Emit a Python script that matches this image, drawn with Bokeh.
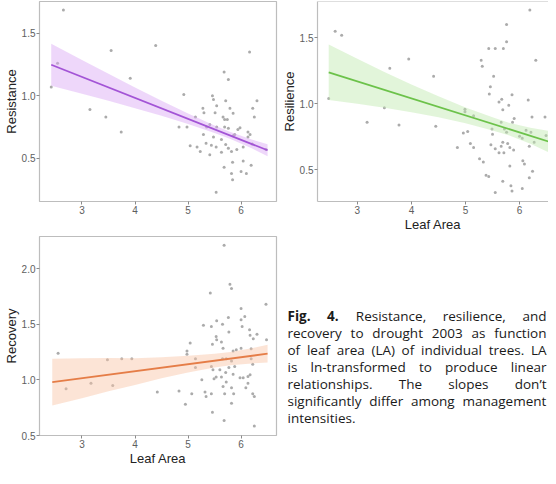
from bokeh.plotting import figure
from bokeh.models import Range1d, FixedTicker, Span, NumeralTickFormatter
from bokeh.layouts import row, column
from bokeh.embed import file_html
from bokeh.resources import INLINE
from bokeh.core.properties import value

# ---------------- data ----------------
# Panel 1: Resistance vs ln(Leaf Area)
la_resistance = [2.65, 4.39, 3.55, 2.42, 2.54, 3.91, 3.15, 3.45, 3.74, 4.83, 4.92, 6.16,
                 5.68, 5.76, 5.46, 5.48, 5.71, 5.79, 6.30, 6.22, 5.28, 5.30, 5.54, 5.51,
                 5.66, 5.69, 5.74, 5.85, 6.25, 5.14, 4.98, 5.41, 5.54, 5.69, 5.76, 5.94,
                 5.98, 5.88, 5.85, 6.13, 6.17, 5.29, 5.48, 5.63, 5.04, 5.17, 5.34, 5.44,
                 5.53, 5.71, 5.76, 5.82, 5.92, 6.04, 6.21, 5.23, 5.41, 5.63, 6.04, 5.68,
                 5.84, 5.82, 6.00, 6.10, 5.84, 6.19, 5.53, 6.47, 6.13, 5.35]
resistance = [1.685, 1.40, 1.36, 1.07, 1.26, 1.14, 0.89, 0.83, 0.71, 0.75, 1.01, 1.35,
              1.19, 1.13, 1.00, 0.97, 0.96, 0.90, 0.96, 0.90, 0.90, 0.865, 0.92, 0.865,
              0.83, 0.81, 0.81, 0.86, 0.83, 0.83, 0.75, 0.77, 0.75, 0.75, 0.74, 0.73,
              0.745, 0.69, 0.68, 0.71, 0.69, 0.69, 0.67, 0.65, 0.60, 0.59, 0.62, 0.605,
              0.59, 0.61, 0.58, 0.555, 0.57, 0.59, 0.615, 0.555, 0.53, 0.55, 0.48, 0.43,
              0.47, 0.38, 0.395, 0.38, 0.33, 0.445, 0.23, 0.57, 0.67, 0.75]
resistance_fit_x = [2.42, 6.50]
resistance_fit_y = [1.247, 0.565]
resistance_band_x = [2.42, 3.0, 3.5, 4.0, 4.5, 5.0, 5.5, 5.8, 6.2, 6.5]
resistance_band_lo = [1.080, 1.015, 0.959, 0.901, 0.840, 0.774, 0.702, 0.654, 0.580, 0.517]
resistance_band_hi = [1.414, 1.285, 1.175, 1.065, 0.960, 0.858, 0.762, 0.710, 0.650, 0.613]

# Panel 2: Resilience vs ln(Leaf Area)
la_resilience = [2.59, 2.71, 2.47, 3.95, 3.60, 4.41, 3.50, 3.18, 3.77, 4.45,
                 6.19, 5.76, 5.76, 5.43, 5.55, 5.70, 5.29, 5.31, 6.30, 5.52, 5.46, 5.44,
                 5.86, 5.67, 5.62, 6.16, 5.80, 5.69, 4.99, 4.99, 5.15, 6.23, 6.47, 5.90,
                 5.87, 5.66, 5.49, 5.72, 5.76, 5.50, 6.00, 6.05, 6.12, 6.21, 6.49, 4.96,
                 5.04, 4.85, 5.09, 5.15, 5.47, 5.55, 5.66, 5.69, 5.78, 5.82, 5.89, 5.71,
                 5.62, 6.18, 6.27, 5.26, 5.33, 5.82, 6.06, 6.09, 6.24, 5.38, 5.43, 5.69,
                 6.18, 5.84, 5.86, 6.05, 5.55]
resilience = [1.55, 1.52, 1.04, 1.34, 1.27, 1.21, 0.97, 0.86, 0.84, 0.83,
              1.71, 1.60, 1.47, 1.42, 1.42, 1.42, 1.33, 1.285, 1.33, 1.21, 1.13, 1.075,
              1.07, 1.035, 1.015, 1.03, 0.99, 0.955, 0.96, 0.94, 0.91, 0.90, 0.90, 0.89,
              0.86, 0.86, 0.81, 0.81, 0.785, 0.77, 0.755, 0.74, 0.80, 0.785, 0.76, 0.78,
              0.79, 0.67, 0.70, 0.67, 0.69, 0.66, 0.68, 0.71, 0.70, 0.67, 0.65, 0.63,
              0.63, 0.68, 0.71, 0.585, 0.56, 0.53, 0.57, 0.545, 0.49, 0.46, 0.45, 0.415,
              0.44, 0.38, 0.34, 0.36, 0.33]
resilience_fit_x = [2.47, 6.60]
resilience_fit_y = [1.239, 0.707]
resilience_band_x = [2.47, 3.0, 3.5, 4.0, 4.5, 5.0, 5.5, 5.8, 6.2, 6.6]
resilience_band_lo = [1.029, 1.001, 0.971, 0.937, 0.898, 0.853, 0.799, 0.762, 0.699, 0.622]
resilience_band_hi = [1.449, 1.341, 1.241, 1.147, 1.058, 0.973, 0.899, 0.858, 0.819, 0.792]

# Panel 3: Recovery vs ln(Leaf Area)
la_recovery = [2.55, 2.70, 3.17, 3.58, 3.48, 3.75, 3.94, 4.42, 4.83,
               5.68, 5.79, 5.82, 5.42, 6.47, 6.00, 6.07, 6.00, 5.76, 5.54, 5.44, 5.65,
               5.29, 5.77, 6.02, 6.16, 6.17, 6.30, 6.23, 6.48, 5.53, 5.54, 5.63, 5.46,
               5.04, 4.98, 4.98, 5.66, 5.85, 5.91, 6.00, 6.19, 5.14, 5.14, 5.65, 5.72,
               5.82, 6.19, 6.22, 5.44, 5.47, 5.60, 5.77, 5.88, 5.71, 5.85, 5.63, 5.53,
               6.04, 6.13, 6.17, 5.98, 5.26, 5.49, 5.72, 5.82, 5.66, 6.13, 6.09, 5.07,
               5.32, 5.44, 5.69, 5.86, 6.22, 5.34, 6.25, 4.95, 5.82, 5.46, 5.68, 6.25]
recovery = [1.24, 0.92, 0.97, 0.95, 1.18, 1.19, 1.19, 0.89, 0.90,
            2.21, 1.86, 1.82, 1.78, 1.68, 1.64, 1.57, 1.54, 1.56, 1.53, 1.48, 1.50,
            1.49, 1.43, 1.48, 1.45, 1.40, 1.41, 1.37, 1.36, 1.39, 1.36, 1.34, 1.32,
            1.33, 1.26, 1.23, 1.285, 1.26, 1.27, 1.285, 1.28, 1.19, 1.11, 1.19, 1.19,
            1.17, 1.19, 1.14, 1.12, 1.09, 1.09, 1.11, 1.12, 1.065, 1.05, 1.025, 1.025,
            1.02, 1.03, 1.045, 1.02, 1.00, 1.01, 0.98, 0.93, 0.94, 0.97, 0.93, 0.875,
            0.89, 0.875, 0.875, 0.875, 0.875, 0.85, 0.85, 0.78, 0.79, 0.71, 0.635, 0.585]
recovery_fit_x = [2.44, 6.50]
recovery_fit_y = [0.980, 1.235]
recovery_band_x = [2.44, 3.0, 3.5, 4.0, 4.5, 5.0, 5.5, 5.8, 6.2, 6.5]
recovery_band_lo = [0.770, 0.835, 0.897, 0.954, 1.014, 1.066, 1.110, 1.131, 1.148, 1.155]
recovery_band_hi = [1.190, 1.195, 1.197, 1.194, 1.204, 1.216, 1.234, 1.251, 1.284, 1.315]

x_ticks = [3, 4, 5, 6]
x_title = "Leaf Area"

caption_lines = [
    [("Fig.", True), ("4.", True), ("Resistance,", False), ("resilience,", False), ("and", False)],
    [("recovery", False), ("to", False), ("drought", False), ("2003", False), ("as", False), ("function", False)],
    [("of", False), ("leaf", False), ("area", False), ("(LA)", False), ("of", False), ("individual", False),
     ("trees.", False), ("LA", False)],
    [("is", False), ("ln-transformed", False), ("to", False), ("produce", False), ("linear", False)],
    [("relationships.", False), ("The", False), ("slopes", False), ("don\u2019t", False)],
    [("significantly", False), ("differ", False), ("among", False), ("management", False)],
    [("intensities.", False)],
]

# ---------------- styling ----------------
FONT = "Liberation Sans"
CAP_FONT = "Open Sans"
CAP_SIZE = 13.5
BORDER = "#bdbdbd"
TICK = "#8a8a8a"
LABEL = "#5e5e5e"
POINT = "#969696"

# approximate Open Sans advance widths (units per em = 2048), used to justify caption lines
OS_W = {
    'a': 1139, 'b': 1255, 'c': 975, 'd': 1255, 'e': 1149, 'f': 694, 'g': 1122, 'h': 1257, 'i': 518,
    'j': 518, 'k': 1075, 'l': 518, 'm': 1905, 'n': 1257, 'o': 1237, 'p': 1255, 'q': 1255, 'r': 836,
    's': 977, 't': 723, 'u': 1257, 'v': 1026, 'w': 1593, 'x': 1073, 'y': 1028, 'z': 977,
    'A': 1296, 'F': 1069, 'L': 1073, 'R': 1268, 'T': 1128, '.': 545, ',': 500, '(': 590, ')': 590,
    '-': 659, '\u2019': 348, ' ': 532,
}


def text_width(s, bold=False):
    w = sum(OS_W.get(ch, 1171) for ch in s) / 2048.0 * CAP_SIZE
    return w * (1.06 if bold else 1.0)


def style_axis(ax, label, line=False):
    ax.axis_label = label
    ax.axis_label_text_font = FONT
    ax.axis_label_text_font_style = "normal"
    ax.axis_label_text_font_size = "13px"
    ax.axis_label_text_color = "#222222"
    ax.axis_label_standoff = 0
    ax.major_label_text_font = FONT
    ax.major_label_text_font_size = "10px"
    ax.major_label_text_color = LABEL
    ax.major_label_standoff = 1
    ax.major_tick_line_color = TICK
    ax.major_tick_out = 3
    ax.major_tick_in = 0
    ax.minor_tick_line_color = None
    ax.axis_line_color = BORDER if line else None
    ax.axis_line_width = 1.2


def panel(width, height, xr, yr, yticks, ylab, mbl, mbr, mbt, mbb, xlab=None, open_right=False):
    p = figure(width=width, height=height, x_range=Range1d(*xr), y_range=Range1d(*yr),
               output_backend="svg", toolbar_location=None,
               min_border_left=mbl, min_border_right=mbr, min_border_top=mbt, min_border_bottom=mbb)
    p.xgrid.visible = False
    p.ygrid.visible = False
    p.background_fill_color = "white"
    p.border_fill_color = "white"
    p.xaxis.ticker = FixedTicker(ticks=x_ticks)
    p.yaxis.ticker = FixedTicker(ticks=yticks)
    p.yaxis.formatter = NumeralTickFormatter(format="0.0")
    style_axis(p.xaxis[0], xlab, line=open_right)
    style_axis(p.yaxis[0], ylab, line=open_right)
    if open_right:
        p.outline_line_color = None
        p.add_layout(Span(location=yr[1], dimension="width", line_color=BORDER, line_width=1.2))
    else:
        p.outline_line_color = BORDER
        p.outline_line_width = 1.2
    return p


def fill(p, lx, ly, bx, lo, hi, fx, fy, line_col, band_col):
    p.scatter(lx, ly, size=3.0, fill_color=POINT, line_color=None, fill_alpha=0.8)
    p.varea(x=bx, y1=lo, y2=hi, fill_color=band_col, fill_alpha=0.45)
    p.line(fx, fy, line_color=line_col, line_width=1.8)


ROW1_H = 234
ROW2_H = 234

# row 1
p1 = panel(278, ROW1_H, (2.199, 6.668), (0.156, 1.752), [0.5, 1.0, 1.5], "Resistance", 36, 2, 1, 29)
fill(p1, la_resistance, resistance, resistance_band_x, resistance_band_lo, resistance_band_hi,
     resistance_fit_x, resistance_fit_y, "#a354d6", "#d9a6f5")

p2 = panel(270, ROW1_H, (2.263, 6.535), (0.261, 1.775), [0.5, 1.0, 1.5], "Resilience", 38, 0, 1, 29,
           xlab=x_title, open_right=True)
fill(p2, la_resilience, resilience, resilience_band_x, resilience_band_lo, resilience_band_hi,
     resilience_fit_x, resilience_fit_y, "#6cc24a", "#bfe8ad")

# row 2
p3 = panel(278, ROW2_H, (2.199, 6.668), (0.5, 2.288), [0.5, 1.0, 1.5, 2.0], "Recovery", 36, 2, 2, 29,
           xlab=x_title)
fill(p3, la_recovery, recovery, recovery_band_x, recovery_band_lo, recovery_band_hi,
     recovery_fit_x, recovery_fit_y, "#e57d47", "#f9c3a3")

# caption panel (justified text)
p4 = figure(width=270, height=ROW2_H, x_range=Range1d(0, 270), y_range=Range1d(ROW2_H, 0),
            x_axis_type=None, y_axis_type=None, output_backend="svg", toolbar_location=None,
            min_border_left=0, min_border_right=0, min_border_top=0, min_border_bottom=0)
p4.xgrid.visible = False
p4.ygrid.visible = False
p4.outline_line_color = None
p4.background_fill_color = "white"
p4.border_fill_color = "white"

LEFT, RIGHT = 9, 268
FIRST_BASE, LEADING = 94, 19.9
for i, words in enumerate(caption_lines):
    base = FIRST_BASE + i * LEADING
    widths = [text_width(w, b) for w, b in words]
    if i < len(caption_lines) - 1 and len(words) > 1:
        gap = (RIGHT - LEFT - sum(widths)) / (len(words) - 1)
    else:
        gap = text_width(" ")
    x = LEFT
    for (w, b), wd in zip(words, widths):
        p4.text(x=[x], y=[base], text=[w], text_font=value(CAP_FONT), text_font_size=f"{CAP_SIZE}px",
                text_font_style="bold" if b else "normal", text_color="#1a1a1a",
                text_baseline="alphabetic", text_align="left")
        x += wd + gap

layout = column(row(p1, p2), row(p3, p4))
open("out.html", "w").write(file_html(layout, INLINE))
